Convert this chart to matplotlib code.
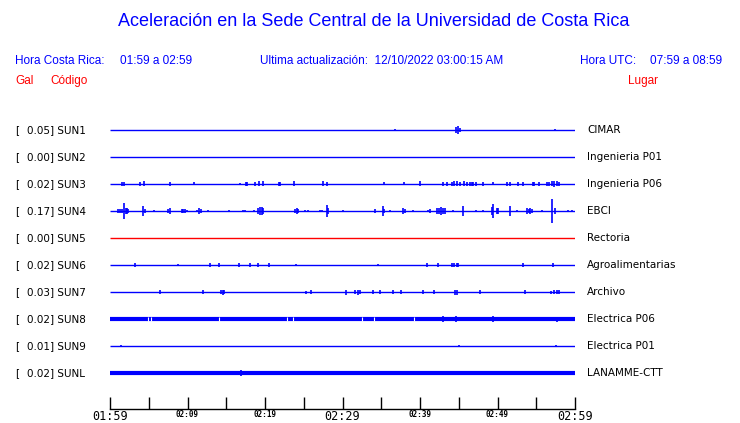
import matplotlib
matplotlib.use("Agg")
import matplotlib.pyplot as plt
from matplotlib.transforms import blended_transform_factory

# station info, top to bottom
codes = ["SUN1", "SUN2", "SUN3", "SUN4", "SUN5", "SUN6", "SUN7", "SUN8", "SUN9", "SUNL"]
gal = ["0.05", "0.00", "0.02", "0.17", "0.00", "0.02", "0.03", "0.02", "0.01", "0.02"]
places = ["CIMAR", "Ingenieria P01", "Ingenieria P06", "EBCI", "Rectoria",
          "Agroalimentarias", "Archivo", "Electrica P06", "Electrica P01", "LANAMME-CTT"]

# spikes: minutes after 01:59, half amplitude (trace units)
sun1_t = [36.8, 44.7, 44.9, 45.1, 57.4]
sun1_a = [1, 3, 4, 2, 1]
sun2_t = []
sun2_a = []
sun3_t = [1.51, 1.85, 3.87, 4.39, 7.78, 10.84, 16.81, 17.51, 17.72, 18.71, 19.26, 19.70,
          21.77, 21.97, 23.74, 27.45, 28.0, 35.35, 37.94, 40.0, 43.0, 43.45, 44.09, 44.39,
          44.74, 45.16, 45.68, 46.03, 46.45, 46.67, 46.88, 47.23, 48.17, 49.46, 51.19,
          51.61, 52.61, 53.25, 54.54, 54.75, 55.39, 56.35, 56.68, 56.99, 57.29, 57.64, 57.97]
sun3_a = [2, 2, 2, 2.5, 2, 1.5, 1, 2, 2, 2, 2.5, 2.5,
          2, 2, 2.5, 2.5, 2, 1.5, 1.5, 2.5, 2, 2, 2, 2.5,
          2.5, 2, 2.5, 2, 2, 2, 2, 2, 2, 1.5, 2,
          2, 2, 2, 2, 2, 2, 2, 2, 2.5, 3, 2.5, 2]
sun4_t = [1.07, 1.29, 1.51, 1.85, 2.0, 2.19, 2.32, 4.30, 4.52, 5.72, 7.52, 7.74, 9.25, 9.48,
          9.68, 9.90, 11.19, 11.52, 11.74, 12.61, 15.39, 17.12, 17.42, 18.58, 19.14, 19.35,
          19.61, 19.78, 23.87, 24.13, 24.30, 25.16, 25.59, 27.10, 27.31, 27.96, 28.13, 30.03,
          34.19, 35.19, 35.35, 36.13, 37.85, 38.06, 39.14, 41.07, 41.29, 42.15, 42.45, 42.71,
          42.97, 43.23, 44.30, 45.59, 47.23, 48.17, 49.25, 49.46, 49.90, 50.10, 51.61, 52.48,
          53.77, 54.0, 54.19, 54.41, 55.70, 57.07, 57.42, 59.14, 59.57]
sun4_a = [2, 2, 2, 8, 3, 3, 2, 5, 2, 1, 2, 3, 2, 2,
          2, 1, 1, 3, 2, 1, 1, 1, 1, 1, 3, 4,
          4, 3, 2, 3, 2, 1, 1, 1, 1, 6, 3, 1,
          2, 5, 2, 1, 3, 2, 1, 1, 2, 3, 3, 4,
          3, 3, 1, 5, 1, 1, 4, 7, 3, 3, 5, 1,
          3, 2, 3, 2, 1, 12, 3, 1, 1]
sun5_t = []
sun5_a = []
sun6_t = [3.19, 8.81, 12.94, 14.10, 16.61, 18.03, 19.14, 20.48, 23.96, 34.62, 40.86, 42.36,
          44.09, 44.39, 44.71, 44.90, 53.33, 57.20]
sun6_a = [2, 1, 2, 2, 2, 2, 2, 2, 1.5, 1, 2, 2, 2, 2, 2, 2, 2, 2]
sun7_t = [6.45, 11.96, 14.28, 14.52, 14.71, 25.25, 25.90, 30.41, 31.61, 31.94, 32.26, 33.90,
          34.84, 36.48, 37.51, 40.35, 41.81, 44.52, 44.81, 47.74, 53.55, 56.90, 57.29, 57.64, 57.94]
sun7_a = [2, 2, 2, 2.5, 2, 1.5, 2, 2.5, 2, 2.5, 2, 2,
          2, 2, 2, 2, 2, 2.5, 2.5, 2, 2, 1.5, 2, 2, 2]
sun8_t = [43.0, 44.65, 49.46, 57.64]
sun8_a = [3, 3, 3, 2.5]
sun9_t = [1.38, 45.07, 57.51]
sun9_a = [1, 1, 1]
sunl_t = [16.86]
sunl_a = [2.5]

spike_t = [sun1_t, sun2_t, sun3_t, sun4_t, sun5_t, sun6_t, sun7_t, sun8_t, sun9_t, sunl_t]
spike_a = [sun1_a, sun2_a, sun3_a, sun4_a, sun5_a, sun6_a, sun7_a, sun8_a, sun9_a, sunl_a]

# small white notches in the noisy SUN8 trace
sun8_gaps = [4.86, 5.25, 14.10, 22.88, 23.65, 32.48, 34.06, 39.23]

tick_min = list(range(0, 61, 5))
tick_txt = ["01:59", "", "02:09", "", "02:19", "", "02:29", "", "02:39", "", "02:49", "", "02:59"]

BLUE = "#0000ff"
RED = "#ff0000"
W, H = 740, 423

fig = plt.figure(figsize=(W / 100, H / 100), dpi=100)
fig.patch.set_facecolor("white")

def px(x, y):
    return x / W, 1 - y / H

# header texts
fig.text(*px(374, 22), "Aceleración en la Sede Central de la Universidad de Costa Rica",
         color=BLUE, fontsize=13, family="Liberation Sans", ha="center", va="center")
hdr = dict(color=BLUE, fontsize=8.5, family="Liberation Sans", va="center")
fig.text(*px(15, 61), "Hora Costa Rica:", **hdr)
fig.text(*px(120, 61), "01:59 a 02:59", **hdr)
fig.text(*px(260, 61), "Ultima actualización:  12/10/2022 03:00:15 AM", **hdr)
fig.text(*px(580, 61), "Hora UTC:", **hdr)
fig.text(*px(650, 61), "07:59 a 08:59", **hdr)
red = dict(color=RED, fontsize=8.5, family="Liberation Sans", va="center")
fig.text(*px(15, 81), "Gal", **red)
fig.text(*px(50, 81), "Código", **red)
fig.text(*px(628, 81), "Lugar", **red)

# trace area: 110..575 px wide, 115..409 px tall, row spacing 27 px
ax = fig.add_axes([110 / W, (H - 409) / H, 465 / W, (409 - 115) / H])
row_px = 27
ax.set_xlim(0, 60)
ax.set_ylim((409 - 130) / row_px, (115 - 130) / row_px)
for s in ["top", "left", "right"]:
    ax.spines[s].set_visible(False)
ax.spines["bottom"].set_linewidth(1.0)
ax.set_yticks([])
ax.set_xticks(tick_min)
ax.set_xticklabels(tick_txt)
ax.tick_params(axis="x", direction="in", length=9, width=1.0, pad=0.5)
for i, lab in enumerate(ax.get_xticklabels()):
    big = tick_txt[i] in ("01:59", "02:29", "02:59")
    lab.set_family("DejaVu Sans Mono")
    lab.set_fontsize(8.5 if big else 5.5)
    if not big:
        lab.set_fontweight("bold")

scale = 1 / row_px
for i in range(len(codes)):
    col = RED if codes[i] == "SUN5" else BLUE
    thick = codes[i] in ("SUN8", "SUNL")
    ax.hlines(i, 0, 60, color=col, lw=3.0 if thick else 1.0)
    if spike_t[i]:
        amp = [a * scale for a in spike_a[i]]
        ax.vlines(spike_t[i], [i - a for a in amp], [i + a for a in amp], color=col, lw=1.2)

ax.vlines(sun8_gaps, 7 - 1.6 * scale, 7 + 1.6 * scale, color="white", lw=0.8)

# row labels on both sides
tr = blended_transform_factory(fig.transFigure, ax.transData)
lbl = dict(fontsize=7.5, family="DejaVu Sans", color="black", va="center", transform=tr)
for i in range(len(codes)):
    ax.text(15 / W, i, "[", clip_on=False, **lbl)
    ax.text(27 / W, i, gal[i] + "] " + codes[i], clip_on=False, **lbl)
    ax.text(587 / W, i, places[i], clip_on=False, **lbl)

fig.savefig("out.png", dpi=100)
